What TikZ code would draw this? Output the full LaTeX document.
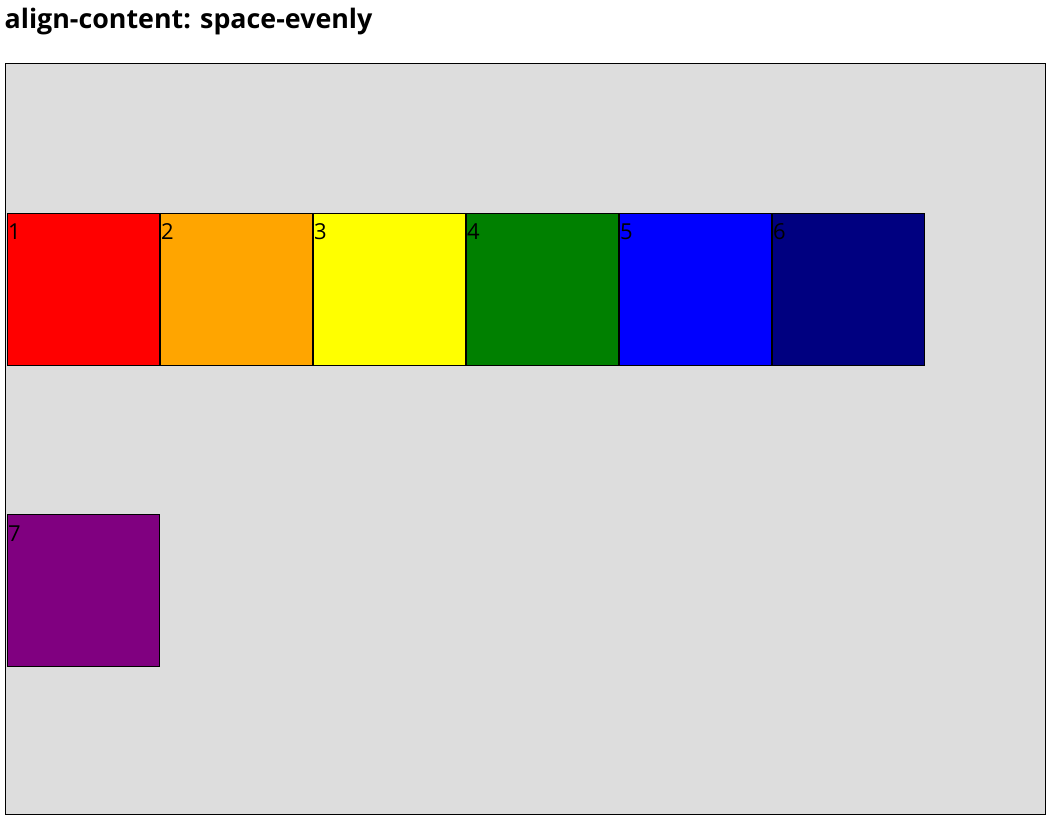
\documentclass[tikz,border=0pt]{standalone}
\usepackage{fontspec}
\setmainfont{Open Sans}
\definecolor{bg}{HTML}{DDDDDD}
\definecolor{cred}{HTML}{FF0000}
\definecolor{corange}{HTML}{FFA500}
\definecolor{cyellow}{HTML}{FFFF00}
\definecolor{cgreen}{HTML}{008000}
\definecolor{cblue}{HTML}{0000FF}
\definecolor{cnavy}{HTML}{000080}
\definecolor{cpurple}{HTML}{800080}
\begin{document}
\begin{tikzpicture}[x=1pt,y=-1pt,
  itembox/.style={draw=black, line width=1pt, anchor=north west, inner sep=0pt,
    minimum width=152pt, minimum height=152pt, outer sep=0pt},
  itemlabel/.style={anchor=base west, inner sep=0pt, font=\fontsize{22}{22}\selectfont}]
\useasboundingbox (0,0) rectangle (1055,818);
\fill[white] (0,0) rectangle (1055,818);
\node[draw=black, line width=1pt, fill=bg, anchor=north west, inner sep=0pt, outer sep=0pt,
  minimum width=1040pt, minimum height=751pt] (container) at (5.5,63.5) {};
\node[anchor=base west, inner sep=0pt, font=\bfseries\fontsize{26.8}{28}\selectfont] (title) at (4.5,28.5) {align-content: space-evenly};
\node[itembox, fill=cred]    (b1) at (7.5,213.5) {};
\node[itembox, fill=corange] (b2) at (160.5,213.5) {};
\node[itembox, fill=cyellow] (b3) at (313.5,213.5) {};
\node[itembox, fill=cgreen]  (b4) at (466.5,213.5) {};
\node[itembox, fill=cblue]   (b5) at (619.5,213.5) {};
\node[itembox, fill=cnavy]   (b6) at (772.5,213.5) {};
\node[itembox, fill=cpurple] (b7) at (7.5,514.5) {};
\foreach \i in {1,...,7} {
  \node[itemlabel] (l\i) at ([xshift=0.5pt,yshift=-26.5pt]b\i.north west) {\i};
}
\end{tikzpicture}
\end{document}
